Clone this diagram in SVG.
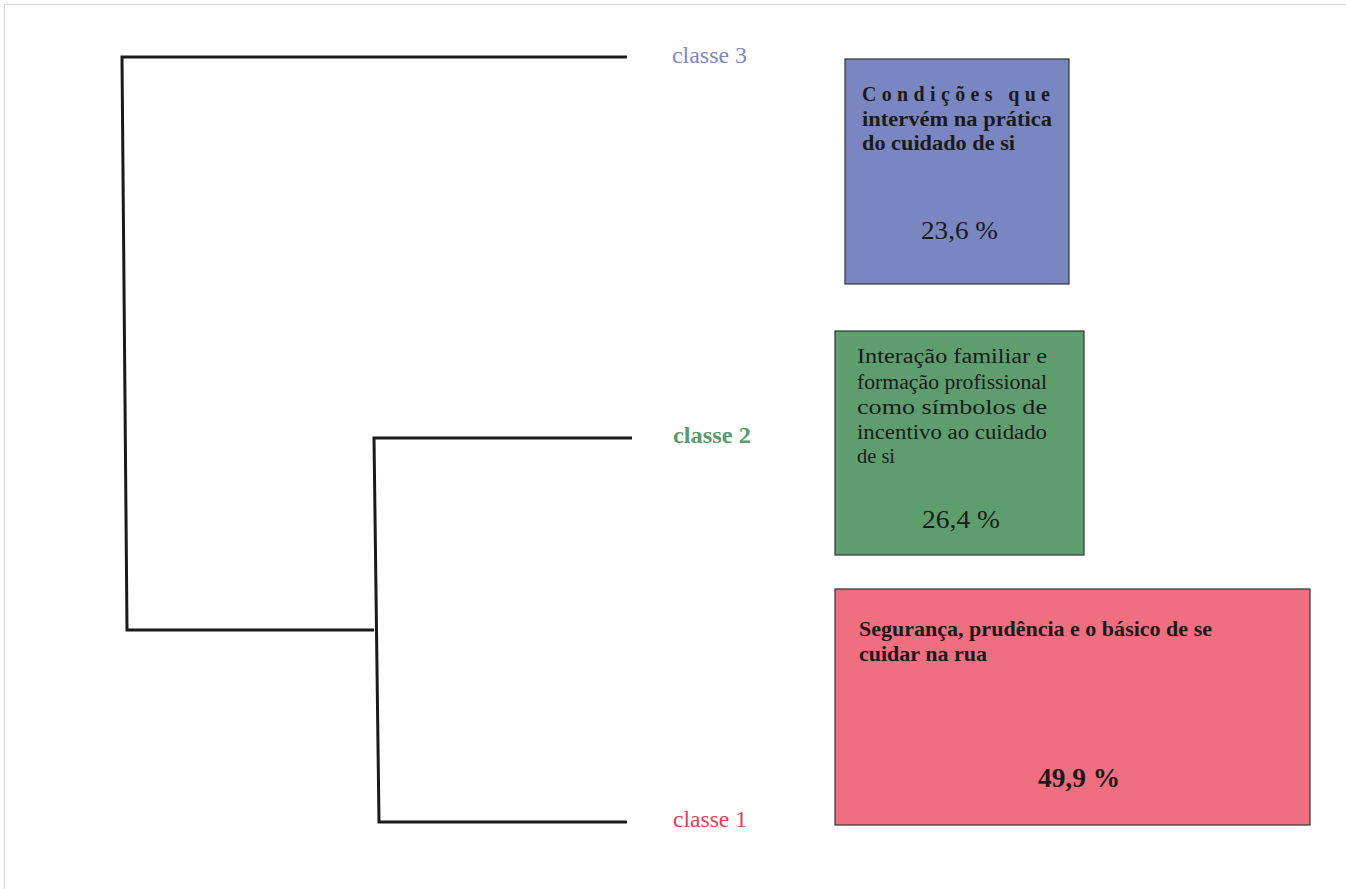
<svg xmlns="http://www.w3.org/2000/svg" width="1346" height="889" viewBox="0 0 1346 889">
<style>
.frame{fill:none;stroke:#d8d8d8;stroke-width:1}
.tree{fill:none;stroke:#1a1a1a;stroke-width:3;stroke-linejoin:miter}
.box{stroke:#333;stroke-width:1.2}
.t{font-family:"Liberation Serif",serif;fill:#1a1a1a}
.lbl{font-family:"Liberation Serif",serif;font-size:23px}
</style>
<rect width="1346" height="889" fill="#fff"/>
<path class="frame" d="M4.5,889 V4.5 H1346"/>
<g id="connectors">
<path class="tree" d="M627,57 H122 L127,630 H374"/>
<path class="tree" d="M632,438 H374 L379,822 H627"/>
</g>
<g id="classe3">
<text class="lbl" x="672" y="63" fill="#7f87c0" textLength="75" lengthAdjust="spacingAndGlyphs">classe 3</text>
</g>
<g id="classe2">
<text class="lbl" x="673" y="443" fill="#5b9a6b" font-weight="bold" textLength="78" lengthAdjust="spacingAndGlyphs">classe 2</text>
</g>
<g id="classe1">
<text class="lbl" x="673" y="827" fill="#e04259" textLength="74" lengthAdjust="spacingAndGlyphs">classe 1</text>
</g>
<g id="box3">
<rect class="box" x="845" y="59" width="224" height="225" fill="#7a86c1"/>
<text class="t" font-size="20" font-weight="bold" x="862" y="101" textLength="188" lengthAdjust="spacing">Condições que</text>
<text class="t" font-size="20" font-weight="bold" x="862" y="126" textLength="190" lengthAdjust="spacingAndGlyphs">intervém na prática</text>
<text class="t" font-size="20" font-weight="bold" x="862" y="150" textLength="153" lengthAdjust="spacingAndGlyphs">do cuidado de si</text>
<text class="t" font-size="26" x="921" y="239" textLength="77" lengthAdjust="spacingAndGlyphs">23,6 %</text>
</g>
<g id="box2">
<rect class="box" x="835" y="331" width="249" height="224" fill="#5e9e6e"/>
<text class="t" font-size="20" x="857" y="363" textLength="190" lengthAdjust="spacingAndGlyphs">Interação familiar e</text>
<text class="t" font-size="20" x="857" y="389" textLength="190" lengthAdjust="spacingAndGlyphs">formação profissional</text>
<text class="t" font-size="20" x="857" y="414" textLength="190" lengthAdjust="spacingAndGlyphs">como símbolos de</text>
<text class="t" font-size="20" x="857" y="439" textLength="190" lengthAdjust="spacingAndGlyphs">incentivo ao cuidado</text>
<text class="t" font-size="20" x="857" y="463" textLength="38" lengthAdjust="spacingAndGlyphs">de si</text>
<text class="t" font-size="26" x="922" y="528" textLength="78" lengthAdjust="spacingAndGlyphs">26,4 %</text>
</g>
<g id="box1">
<rect class="box" x="835" y="589" width="475" height="236" fill="#ef6e80"/>
<text class="t" font-size="22" font-weight="bold" x="859" y="636" textLength="353" lengthAdjust="spacingAndGlyphs">Segurança, prudência e o básico de se</text>
<text class="t" font-size="22" font-weight="bold" x="859" y="661" textLength="128" lengthAdjust="spacingAndGlyphs">cuidar na rua</text>
<text class="t" font-size="27" font-weight="bold" x="1038" y="787" textLength="82" lengthAdjust="spacingAndGlyphs">49,9 %</text>
</g>
</svg>
